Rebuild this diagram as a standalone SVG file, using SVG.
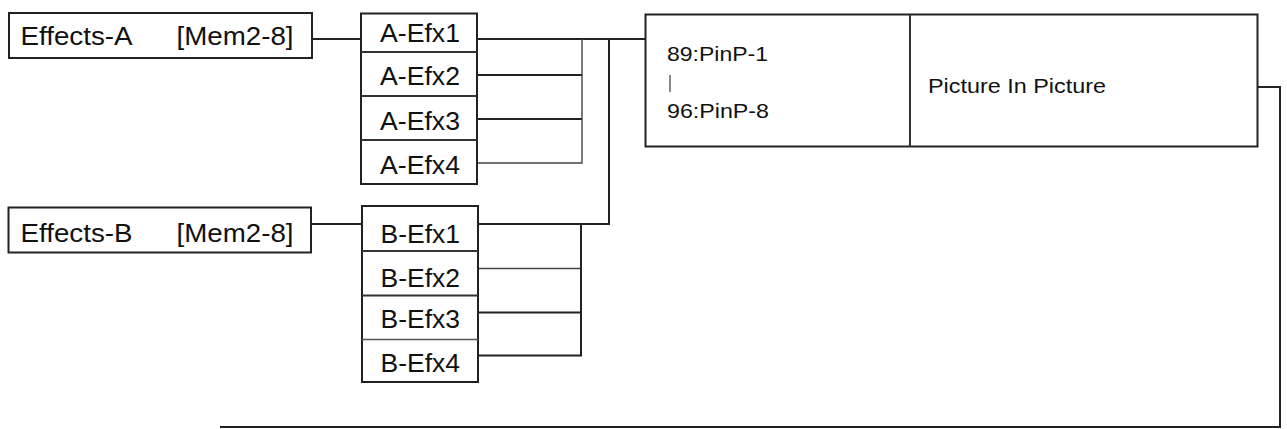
<svg xmlns="http://www.w3.org/2000/svg" width="1287" height="429" viewBox="0 0 1287 429">
<style>
.box{fill:#fff;stroke:#222;stroke-width:2}
.div{stroke:#333;stroke-width:2}
.thin{stroke:#555;stroke-width:1.4}
.lbl{font-family:"Liberation Sans",Arial,sans-serif;font-size:25px;fill:#111}
.sm{font-family:"Liberation Sans",Arial,sans-serif;font-size:21px;fill:#111}
.c{fill:none;stroke:#222;stroke-width:2}
.ct{fill:none;stroke:#444;stroke-width:1.4}
</style>
<rect width="1287" height="429" fill="#fff"/>
<g id="connectors">
<path class="c" d="M312 39 H361"/>
<path class="c" d="M311 224 H362"/>
<path class="c" d="M477 39 H645"/>
<path class="c" d="M477 75 H582"/>
<path class="c" d="M477 119 H582"/>
<path class="ct" d="M477 163 H582 V39"/>
<path class="c" d="M609 39 V224 H478"/>
<path class="ct" d="M478 268.5 H581"/>
<path class="c" d="M478 312.5 H581"/>
<path class="c" d="M478 355.5 H581 V224"/>
<path class="c" d="M1258 87 H1280 V427 H220"/>
</g>
<g id="effects-a">
<rect class="box" x="9" y="13" width="303" height="45"/>
<text class="lbl" x="20.5" y="45" textLength="112" lengthAdjust="spacingAndGlyphs">Effects-A</text>
<text class="lbl" x="176.5" y="45" textLength="117" lengthAdjust="spacingAndGlyphs">[Mem2-8]</text>
</g>
<g id="effects-b">
<rect class="box" x="8.5" y="207.5" width="302.5" height="45"/>
<text class="lbl" x="20.5" y="242" textLength="112" lengthAdjust="spacingAndGlyphs">Effects-B</text>
<text class="lbl" x="176.5" y="242" textLength="117" lengthAdjust="spacingAndGlyphs">[Mem2-8]</text>
</g>
<g id="a-efx">
<rect class="box" x="361" y="13.5" width="116" height="170.5"/>
<line class="div" x1="361" y1="52" x2="477" y2="52"/>
<line class="div" x1="361" y1="96" x2="477" y2="96"/>
<line class="div" x1="361" y1="140" x2="477" y2="140"/>
<text class="lbl" x="380" y="41.5" textLength="80" lengthAdjust="spacingAndGlyphs">A-Efx1</text>
<text class="lbl" x="380" y="85" textLength="80" lengthAdjust="spacingAndGlyphs">A-Efx2</text>
<text class="lbl" x="380" y="129.5" textLength="80" lengthAdjust="spacingAndGlyphs">A-Efx3</text>
<text class="lbl" x="380" y="174" textLength="80" lengthAdjust="spacingAndGlyphs">A-Efx4</text>
</g>
<g id="b-efx">
<rect class="box" x="362" y="206" width="116" height="176"/>
<line class="div" x1="362" y1="251" x2="478" y2="251"/>
<line class="div" x1="362" y1="295.5" x2="478" y2="295.5"/>
<line class="thin" x1="362" y1="339.5" x2="478" y2="339.5"/>
<text class="lbl" x="380.5" y="242.5" textLength="79.5" lengthAdjust="spacingAndGlyphs">B-Efx1</text>
<text class="lbl" x="380.5" y="286.5" textLength="79.5" lengthAdjust="spacingAndGlyphs">B-Efx2</text>
<text class="lbl" x="380.5" y="328" textLength="79.5" lengthAdjust="spacingAndGlyphs">B-Efx3</text>
<text class="lbl" x="380.5" y="372" textLength="79.5" lengthAdjust="spacingAndGlyphs">B-Efx4</text>
</g>
<g id="pip">
<rect class="box" x="645.5" y="14.5" width="612" height="132"/>
<line class="div" x1="910" y1="14.5" x2="910" y2="146.5"/>
<text class="sm" x="667" y="61" textLength="101" lengthAdjust="spacingAndGlyphs">89:PinP-1</text>
<line class="thin" x1="670" y1="75" x2="670" y2="92"/>
<text class="sm" x="667" y="118" textLength="102" lengthAdjust="spacingAndGlyphs">96:PinP-8</text>
<text class="sm" x="928" y="93" textLength="178" lengthAdjust="spacingAndGlyphs">Picture In Picture</text>
</g>
</svg>
